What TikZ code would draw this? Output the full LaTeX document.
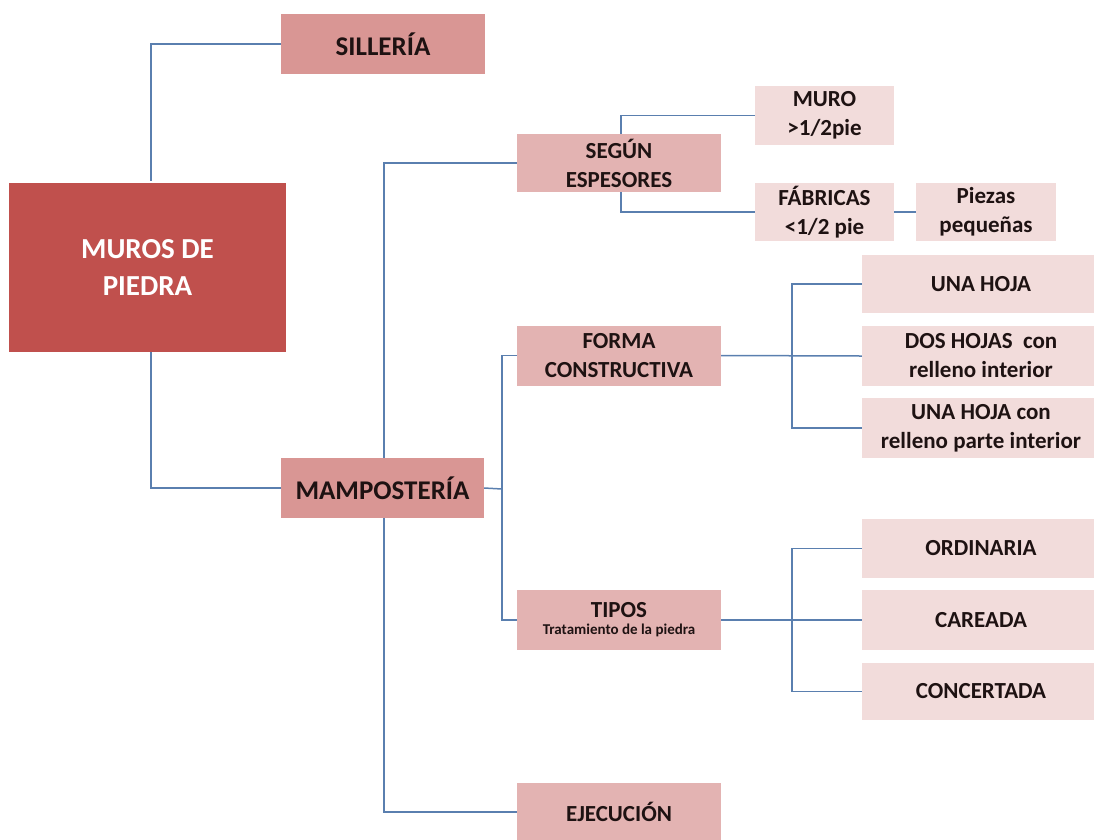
\documentclass[tikz,border=0pt]{standalone}
\usepackage{fontspec}
\setmainfont{Carlito}
\usetikzlibrary{backgrounds}
\definecolor{cMain}{HTML}{C0504D}
\definecolor{cTwoA}{HTML}{D99694}
\definecolor{cTwoB}{HTML}{E3B3B2}
\definecolor{cLeaf}{HTML}{F2DCDB}
\definecolor{cLine}{HTML}{5A7FAF}
\definecolor{cTxt}{HTML}{1E1212}
\begin{document}
\begin{tikzpicture}[x=1pt,y=-1pt,
  box/.style={rectangle,inner sep=0pt,align=center,text=cTxt},
  bigbox/.style={box,fill=cTwoA,font=\fontsize{27}{32}\selectfont\bfseries},
  midbox/.style={box,fill=cTwoB,font=\fontsize{23}{29}\selectfont\bfseries},
  leafbox/.style={box,fill=cLeaf,font=\fontsize{23}{29}\selectfont\bfseries},
  sz/.style 2 args={minimum width=#1pt,minimum height=#2pt},
  conn/.style={draw=cLine,line width=1.5pt}]
\useasboundingbox (0,0) rectangle (1094,839);

\node[box,fill=cMain,text=white,sz={277}{169},font=\fontsize{29}{37}\selectfont\bfseries] (muros) at (147.5,267) {MUROS DE\\PIEDRA};
\node[bigbox,sz={204}{60}] (sill) at (383,44) {SILLERÍA};
\node[bigbox,sz={203}{60}] (mamp) at (382.5,488) {MAMPOSTERÍA};

\node[midbox,sz={204}{58}] (segun) at (619,163) {SEGÚN\\ESPESORES};
\node[midbox,sz={204}{60}] (forma) at (619,355.5) {FORMA\\CONSTRUCTIVA};
\node[midbox,sz={204}{60}] (tipos) at (619,620) {TIPOS\\[-12pt]{\fontsize{15}{17}\selectfont Tratamiento de la piedra}};
\node[midbox,sz={204}{58}] (ejec) at (619,812) {EJECUCIÓN};

\node[leafbox,sz={139}{59}] (muro) at (824.5,115.5) {MURO\\>1/2pie};
\node[leafbox,sz={139}{58}] (fab) at (824.5,212) {FÁBRICAS\\<1/2 pie};
\node[leafbox,sz={140}{58}] (piezas) at (986,212) {Piezas\\pequeñas};

\node[leafbox,sz={238}{58}] (una) at (981,284) {UNA HOJA};
\node[leafbox,sz={238}{60}] (dos) at (981,356) {DOS HOJAS~ con\\relleno interior};
\node[leafbox,sz={238}{60}] (unacon) at (981,428) {UNA HOJA con\\relleno parte interior};

\node[leafbox,sz={238}{59}] (ord) at (981,548.5) {ORDINARIA};
\node[leafbox,sz={238}{60}] (car) at (981,620) {CAREADA};
\node[leafbox,sz={238}{57}] (conc) at (981,691.5) {CONCERTADA};

\coordinate (mtop) at (151,181);
\coordinate (mbot) at (151,350);
\coordinate (sp1) at (384,489);
\coordinate (sp2) at (502,489);
\coordinate (sp3) at (621,163);
\coordinate (sp4) at (792,356);
\coordinate (sp5) at (792,620);

\begin{scope}[on background layer]
\draw[conn] (sill.west) -| (mtop);
\draw[conn] (mbot) |- (mamp.west);
\draw[conn] (segun.west) -| (sp1) |- (ejec.west);
\draw[conn] (mamp.east) -- (sp2);
\draw[conn] (forma.west) -| (sp2) |- (tipos.west);
\draw[conn] (muro.west) -| (sp3) |- (fab.west);
\draw[conn] (fab.east) -- (piezas.west);
\draw[conn] (forma.east) -- (dos.west);
\draw[conn] (una.west) -| (sp4) |- (unacon.west);
\draw[conn] (tipos.east) -- (car.west);
\draw[conn] (ord.west) -| (sp5) |- (conc.west);
\end{scope}
\end{tikzpicture}
\end{document}
